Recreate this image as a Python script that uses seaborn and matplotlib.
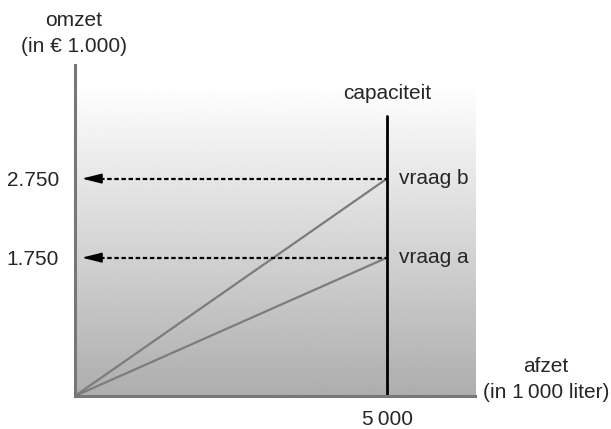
import numpy as np
import pandas as pd
import matplotlib
matplotlib.use("Agg")
import matplotlib.pyplot as plt
import seaborn as sns

# data
vraag = ["vraag a", "vraag b"]
afzet_punten = [0, 5000]
omzet_a = [0, 1750]
omzet_b = [0, 2750]
capaciteit = 5000
y_ticks = [1750, 2750]
y_tick_labels = ["1.750", "2.750"]
x_tick_labels = ["5\u2009000"]

X_MAX = 6410
Y_MAX = 4187
FS = 15


def build_df():
    rows = []
    for naam, omzet in zip(vraag, [omzet_a, omzet_b]):
        for x, y in zip(afzet_punten, omzet):
            rows.append({"vraag": naam, "afzet": x, "omzet": y})
    return pd.DataFrame(rows)


def main():
    sns.set_theme(style="white")
    plt.rcParams["font.family"] = ["Liberation Sans", "DejaVu Sans"]

    fig = plt.figure(figsize=(6.11, 4.29), dpi=100)
    ax = fig.add_axes([75 / 611, 33 / 429, 400 / 611, 331 / 429])

    # gradient background
    grad = np.linspace(0.66, 1.0, 256).reshape(-1, 1)
    grad = np.clip(grad + 0.02, 0, 1)
    ax.imshow(grad, extent=[0, X_MAX, 0, Y_MAX], origin="lower",
              cmap="gray", vmin=0, vmax=1, aspect="auto", zorder=0)

    df = build_df()
    sns.lineplot(data=df, x="afzet", y="omzet", units="vraag", estimator=None,
                 color="#7c7c7c", linewidth=1.6, ax=ax, zorder=2, legend=False)

    # capaciteit line
    ax.plot([capaciteit, capaciteit], [0, 3542], color="black", lw=2.0, zorder=3)
    ax.text(capaciteit, 3700, "capaciteit", ha="center", va="bottom", fontsize=FS)

    tip = 110
    head = 230
    for naam, omzet in zip(vraag, [omzet_a, omzet_b]):
        y = omzet[-1]
        # dashed shaft
        ax.plot([tip + head * 0.8, capaciteit], [y, y], color="black", lw=1.6,
                linestyle=(0, (2.0, 1.2)), zorder=4)
        # solid head
        ax.annotate("", xy=(tip, y), xytext=(tip + head, y),
                    arrowprops=dict(arrowstyle="-|>,head_length=1.0,head_width=0.25",
                                    color="black", lw=1.2,
                                    shrinkA=0, shrinkB=0), zorder=4)
        ax.text(capaciteit + 200, y, naam, ha="left", va="center", fontsize=FS)

    ax.set_xlim(0, X_MAX)
    ax.set_ylim(0, Y_MAX)
    ax.set_xticks([capaciteit])
    ax.set_xticklabels(x_tick_labels, fontsize=FS)
    ax.set_yticks(y_ticks)
    ax.set_yticklabels(y_tick_labels, fontsize=FS)
    ax.tick_params(axis="both", length=0)
    ax.tick_params(axis="x", pad=10)
    ax.tick_params(axis="y", pad=11.5)
    ax.set_xlabel("")
    ax.set_ylabel("")

    for side in ["top", "right"]:
        ax.spines[side].set_visible(False)
    for side in ["left", "bottom"]:
        ax.spines[side].set_color("#777777")
        ax.spines[side].set_linewidth(2.2)
        ax.spines[side].set_zorder(5)

    fig.text(74 / 611, 1 - 21 / 429, "omzet", ha="center", va="center", fontsize=FS)
    fig.text(74 / 611, 1 - 46 / 429, "(in € 1.000)", ha="center", va="center", fontsize=FS)
    fig.text(546 / 611, 1 - 366 / 429, "afzet", ha="center", va="center", fontsize=FS)
    fig.text(546 / 611, 1 - 392 / 429, "(in 1\u2009000 liter)", ha="center", va="center", fontsize=FS)

    fig.savefig("out.png", dpi=100)
    plt.close(fig)


if __name__ == "__main__":
    main()
